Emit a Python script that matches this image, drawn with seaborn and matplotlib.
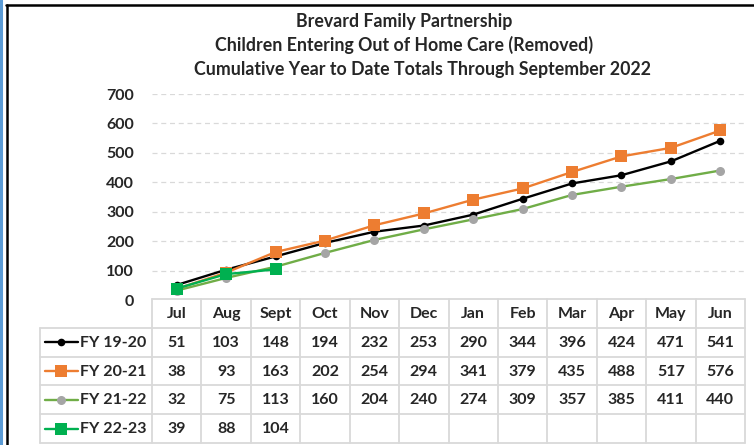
import numpy as np
import pandas as pd
import matplotlib.pyplot as plt
from matplotlib.lines import Line2D
import seaborn as sns

months = ["Jul", "Aug", "Sept", "Oct", "Nov", "Dec", "Jan", "Feb", "Mar", "Apr", "May", "Jun"]
series_names = ["FY 19-20", "FY 20-21", "FY 21-22", "FY 22-23"]
fy_19_20 = [51, 103, 148, 194, 232, 253, 290, 344, 396, 424, 471, 541]
fy_20_21 = [38, 93, 163, 202, 254, 294, 341, 379, 435, 488, 517, 576]
fy_21_22 = [32, 75, 113, 160, 204, 240, 274, 309, 357, 385, 411, 440]
fy_22_23 = [39, 88, 104]
yticks = [0, 100, 200, 300, 400, 500, 600, 700]

sns.set_theme(style="white")
plt.rcParams['font.family'] = ['Lato', 'DejaVu Sans']
plt.rcParams['font.weight'] = 'bold'

rows = []
for name, vals in zip(series_names, [fy_19_20, fy_20_21, fy_21_22, fy_22_23]):
    for i, v in enumerate(vals):
        rows.append({"series": name, "pos": i, "month": months[i], "value": v})
df = pd.DataFrame(rows)

# line colour, marker, marker colour, marker size
styles = {
    "FY 19-20": ("#000000", "o", "#000000", 5.5),
    "FY 20-21": ("#ED7D31", "s", "#ED7D31", 8),
    "FY 21-22": ("#70AD47", "o", "#A5A5A5", 6.5),
    "FY 22-23": ("#00B050", "s", "#00B050", 8.5),
}

W, H = 754, 445
fig = plt.figure(figsize=(W / 100, H / 100), dpi=100)

# plot area and table in pixel layout
px_left, px_right = 152, 745
px_top, px_bottom = 94, 300
tab_left, tab_top, tab_bottom = 40, 299, 443
ax = fig.add_axes([px_left / W, 1 - px_bottom / H, (px_right - px_left) / W, (px_bottom - px_top) / H])

for name in series_names:
    lc, mk, mc, ms = styles[name]
    d = df[df["series"] == name]
    sns.lineplot(data=d, x="pos", y="value", ax=ax, color=lc, linewidth=1.7,
                 marker=mk, markersize=ms, markerfacecolor=mc, markeredgecolor=mc,
                 markeredgewidth=0, legend=False)

ax.set_xlim(-0.5, len(months) - 0.5)
ax.set_ylim(0, 700)
ax.set_yticks(yticks)
ax.set_xticks([])
ax.set_xlabel("")
ax.set_ylabel("")
ax.tick_params(axis="y", length=0, pad=13, labelsize=11.5)
for lab in ax.get_yticklabels():
    lab.set_fontweight("bold")
ax.yaxis.grid(True, color="#d9d9d9", linestyle=(0, (4, 3)), linewidth=0.9)
for s in ax.spines.values():
    s.set_visible(False)

# data table below the chart
col_w = (px_right - px_left) / len(months)
tab = fig.add_axes([tab_left / W, 1 - tab_bottom / H, (px_right - tab_left) / W, (tab_bottom - tab_top) / H])
x_left = -0.5 - (px_left - tab_left) / col_w
tab.set_xlim(x_left, len(months) - 0.5)
tab.set_ylim(5, 0)
tab.axis("off")

def px2x(px):
    return (px - px_left) / col_w - 0.5

gc = "#d9d9d9"
glw = 1.3
tab.plot([-0.5, len(months) - 0.5], [0, 0], color=gc, lw=glw, clip_on=False)
for r in range(1, 6):
    tab.plot([x_left, len(months) - 0.5], [r, r], color=gc, lw=glw, clip_on=False)
for c in range(len(months) + 1):
    tab.plot([c - 0.5, c - 0.5], [0, 5], color=gc, lw=glw, clip_on=False)
tab.plot([x_left, x_left], [1, 5], color=gc, lw=glw, clip_on=False)

for i, m in enumerate(months):
    tab.text(i, 0.52, m, ha="center", va="center", fontsize=11.5, fontweight="bold")

all_vals = [fy_19_20, fy_20_21, fy_21_22, fy_22_23]
for r, (name, vals) in enumerate(zip(series_names, all_vals), start=1):
    lc, mk, mc, ms = styles[name]
    tab.plot([px2x(45), px2x(78)], [r + 0.5, r + 0.5], color=lc, lw=1.7, clip_on=False)
    tab.plot([px2x(61.5)], [r + 0.5], marker=mk, markersize=ms, color=mc, markeredgewidth=0, clip_on=False)
    tab.text(px2x(80), r + 0.52, name, ha="left", va="center", fontsize=11.5, fontweight="bold")
    for i, v in enumerate(vals):
        tab.text(i, r + 0.52, str(v), ha="center", va="center", fontsize=11.5, fontweight="bold")

# titles
fig.text(404 / W, 1 - 21 / H, "Brevard Family Partnership", ha="center", va="center", fontsize=12.8, fontweight="bold")
fig.text(404 / W, 1 - 45 / H, "Children Entering Out of Home Care (Removed)", ha="center", va="center", fontsize=12.8, fontweight="bold")
fig.text(423 / W, 1 - 69 / H, "Cumulative Year to Date Totals Through September 2022", ha="center", va="center", fontsize=12.8, fontweight="bold")

# frame edges of the screenshot
fig.add_artist(Line2D([1 / W, 1 / W], [0, 1], color="#5B9BD5", lw=2.2))
fig.add_artist(Line2D([6.5 / W, 6.5 / W], [0, 1 - 5 / H], color="black", lw=1.8))
fig.add_artist(Line2D([6 / W, 1], [1 - 5 / H, 1 - 5 / H], color="black", lw=1.8))

fig.savefig("out.png", dpi=100)
